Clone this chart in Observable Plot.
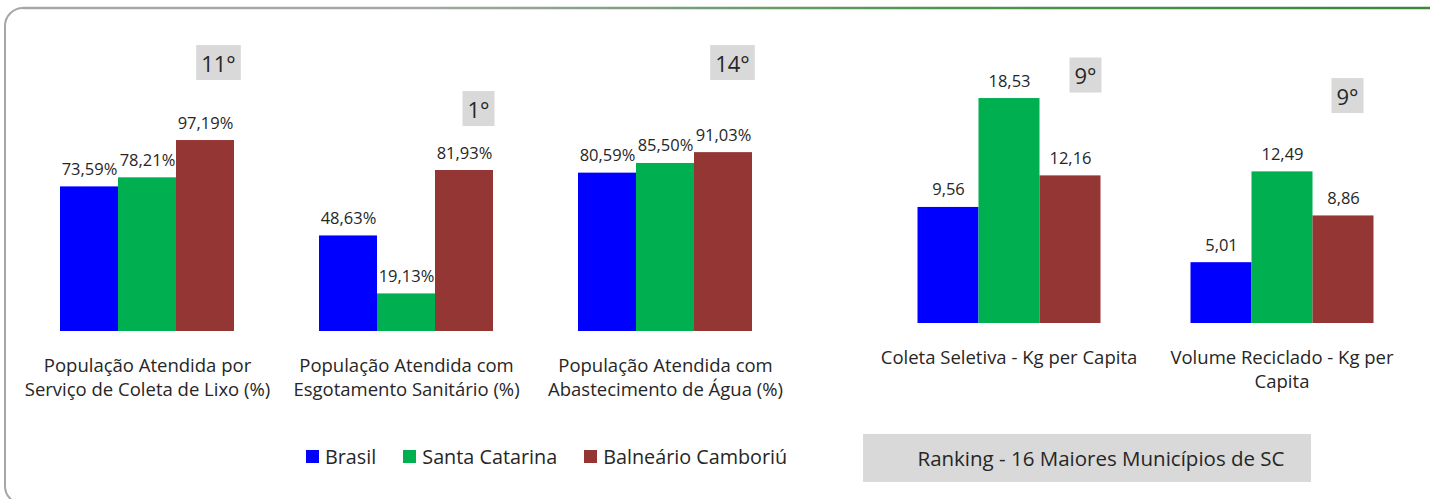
<!DOCTYPE html>
<html>
<head>
<meta charset="utf-8">
<script src="https://cdn.jsdelivr.net/npm/d3@7"></script>
<script src="https://cdn.jsdelivr.net/npm/@observablehq/plot@0.6"></script>
<style>
  html, body { margin: 0; padding: 0; background: #ffffff; }
  body { font-family: "Open Sans", sans-serif; color: #262626; }
  #wrap { position: relative; width: 1430px; height: 499px; overflow: hidden; }
  #frame { position: absolute; left: 0; top: 0; }
  .chart { position: absolute; top: 0; }
  #legend { position: absolute; left: 306px; top: 443px; display: flex; align-items: center; font-size: 19.8px; color: #262626; white-space: nowrap; }
  #legend .item { display: flex; align-items: center; margin-right: 27px; }
  #legend .sw { width: 13px; height: 13px; margin-right: 6px; }
  #ranking { position: absolute; left: 863px; top: 434px; width: 448px; height: 48px; background: #d9d9d9; font-size: 20.5px; color: #262626; display: flex; align-items: center; justify-content: center; box-sizing: border-box; padding-left: 28px; white-space: nowrap; }
</style>
</head>
<body>
<div id="wrap">
  <svg id="frame" width="1430" height="499">
    <defs>
      <linearGradient id="topgrad" x1="0" x2="1430" y1="0" y2="0" gradientUnits="userSpaceOnUse">
        <stop offset="0" stop-color="#a6a6a6"/>
        <stop offset="0.3" stop-color="#a3a8a3"/>
        <stop offset="0.65" stop-color="#4f944f"/>
        <stop offset="1" stop-color="#3b873b"/>
      </linearGradient>
    </defs>
    <path d="M 23 8 A 18 18 0 0 0 5 26 L 5 486 A 18 18 0 0 0 23 504 L 1440 504" fill="none" stroke="#a6a6a6" stroke-width="2"/>
    <path d="M 23 8 L 1440 8" fill="none" stroke="url(#topgrad)" stroke-width="2.5"/>
  </svg>
  <div id="left" class="chart" style="left:0px"></div>
  <div id="right" class="chart" style="left:830px"></div>
  <div id="legend"></div>
  <div id="ranking"></div>
</div>
<script>
// ---------------- data ----------------
const series = ["Brasil", "Santa Catarina", "Balneário Camboriú"];
const seriesColors = ["#0000ff", "#00b050", "#943634"];

const leftCategories = [
  "População Atendida por\nServiço de Coleta de Lixo (%)",
  "População Atendida com\nEsgotamento Sanitário (%)",
  "População Atendida com\nAbastecimento de Água (%)"
];
const leftBrasil = [73.59, 48.63, 80.59];
const leftSantaCatarina = [78.21, 19.13, 85.50];
const leftBalneario = [97.19, 81.93, 91.03];
const leftRanks = ["11°", "1°", "14°"];

const rightCategories = [
  "Coleta Seletiva - Kg per Capita",
  "Volume Reciclado - Kg per\nCapita"
];
const rightBrasil = [9.56, 5.01];
const rightSantaCatarina = [18.53, 12.49];
const rightBalneario = [12.16, 8.86];
const rightRanks = ["9°", "9°"];

const rankingNote = "Ranking - 16 Maiores Municípios de SC";

// ---------------- helpers ----------------
const fmt2 = d3.format(".2f");
const fmtPct = v => fmt2(v).replace(".", ",") + "%";
const fmtNum = v => fmt2(v).replace(".", ",");

function groupedChart(opts) {
  const {categories, values, ranks, fmt, yMax, width, height,
         marginLeft, marginRight, marginTop, marginBottom, rankLayout, labelDy} = opts;
  const rows = [];
  categories.forEach((c, i) => series.forEach((s, j) => rows.push({cat: c, series: s, value: values[j][i]})));
  const pad = 0.33;
  const rankMarks = categories.map((c, i) => Plot.text([{cat: c, series: series[2], rank: ranks[i]}], {
    fx: "cat", x: "series", text: "rank", frameAnchor: "top", lineAnchor: "middle",
    dx: rankLayout[i].dx, dy: rankLayout[i].py + 1.5 - marginTop,
    fontSize: 22, fill: "#262626"
  }));
  return Plot.plot({
    width, height, marginLeft, marginRight, marginTop, marginBottom,
    fx: {domain: categories, paddingInner: pad, paddingOuter: pad / 2, axis: null, label: null},
    x: {domain: series, padding: 0, axis: null},
    y: {domain: [0, yMax], axis: null},
    color: {domain: series, range: seriesColors},
    style: {fontFamily: "'Open Sans', sans-serif", background: "transparent", color: "#262626", overflow: "visible"},
    marks: [
      Plot.barY(rows, {fx: "cat", x: "series", y: "value", fill: "series", inset: 0}),
      Plot.text(rows, {fx: "cat", x: "series", y: "value", text: d => fmt(d.value),
        lineAnchor: "bottom", dy: -12, fontSize: 16.5, fill: "#262626"}),
      Plot.text(categories, {fx: d => d, text: d => d, frameAnchor: "bottom",
        lineAnchor: "top", dy: labelDy, fontSize: 18.5, lineHeight: 1.32, fill: "#262626"}),
      ...rankMarks
    ]
  });
}

// ---------------- left chart ----------------
const leftChart = groupedChart({
  categories: leftCategories,
  values: [leftBrasil, leftSantaCatarina, leftBalneario],
  ranks: leftRanks,
  fmt: fmtPct,
  yMax: 100,
  width: 820, height: 420,
  marginLeft: 17, marginRight: 24.5, marginTop: 134.5, marginBottom: 89,
  rankLayout: [{dx: 13, py: 62.5}, {dx: 14, py: 108.5}, {dx: 9, py: 62.5}],
  labelDy: 23
});
document.getElementById("left").appendChild(leftChart);

// ---------------- right chart ----------------
const rightChart = groupedChart({
  categories: rightCategories,
  values: [rightBrasil, rightSantaCatarina, rightBalneario],
  ranks: rightRanks,
  fmt: fmtNum,
  yMax: 20,
  width: 600, height: 420,
  marginLeft: 41.5, marginRight: 12.5, marginTop: 80.2, marginBottom: 97,
  rankLayout: [{dx: 15, py: 75}, {dx: 4, py: 95.5}],
  labelDy: 23
});
document.getElementById("right").appendChild(rightChart);

// ---------------- rank boxes (grey background behind rank text) ----------------
const rankSet = new Set([...leftRanks, ...rightRanks]);
document.querySelectorAll(".chart svg text").forEach(t => {
  if (!rankSet.has(t.textContent.trim())) return;
  const b = t.getBBox();
  const padX = 5, padY = 2.5;
  const r = document.createElementNS("http://www.w3.org/2000/svg", "rect");
  r.setAttribute("x", b.x - padX);
  r.setAttribute("y", b.y - padY);
  r.setAttribute("width", b.width + 2 * padX);
  r.setAttribute("height", b.height + 2 * padY);
  r.setAttribute("fill", "#d9d9d9");
  const tr = t.getAttribute("transform");
  if (tr) r.setAttribute("transform", tr);
  t.parentNode.insertBefore(r, t);
});

// ---------------- legend ----------------
const legend = document.getElementById("legend");
series.forEach((s, i) => {
  const item = document.createElement("div");
  item.className = "item";
  const sw = document.createElement("div");
  sw.className = "sw";
  sw.style.background = seriesColors[i];
  const lab = document.createElement("span");
  lab.textContent = s;
  item.appendChild(sw);
  item.appendChild(lab);
  legend.appendChild(item);
});

document.getElementById("ranking").textContent = rankingNote;
</script>
</body>
</html>
